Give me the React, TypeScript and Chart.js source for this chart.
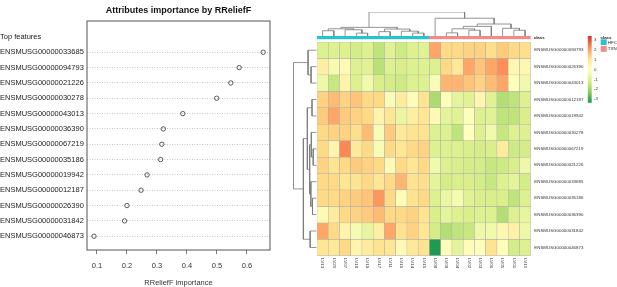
import React, { useEffect, useRef } from 'react';
import { Chart, registerables } from 'chart.js';
Chart.register(...registerables);

const FONT = "'Liberation Sans', Arial, Helvetica, sans-serif";
Chart.defaults.font.family = FONT;

// ---------- left: RReliefF dot chart ----------
const dotTitle = 'Attributes importance by RReliefF';
const dotHeader = 'Top features';
const featureNames = [
  'ENSMUSG00000033685', 'ENSMUSG00000094793', 'ENSMUSG00000021226', 'ENSMUSG00000030278',
  'ENSMUSG00000043013', 'ENSMUSG00000036390', 'ENSMUSG00000067219', 'ENSMUSG00000035186',
  'ENSMUSG00000019942', 'ENSMUSG00000012187', 'ENSMUSG00000026390', 'ENSMUSG00000031842',
  'ENSMUSG00000046873',
];
const importance = [0.654, 0.574, 0.546, 0.499, 0.386, 0.321, 0.316, 0.312, 0.267, 0.247, 0.2, 0.192, 0.09];
const importanceTicks = [0.1, 0.2, 0.3, 0.4, 0.5, 0.6];
const xAxisTitle = 'RReliefF importance';

// ---------- right: heatmap ----------
const heatRows = [
  'ENSMUSG00000094793', 'ENSMUSG00000026390', 'ENSMUSG00000043013', 'ENSMUSG00000012187',
  'ENSMUSG00000019942', 'ENSMUSG00000030278', 'ENSMUSG00000067219', 'ENSMUSG00000021226',
  'ENSMUSG00000033685', 'ENSMUSG00000035186', 'ENSMUSG00000036390', 'ENSMUSG00000031842',
  'ENSMUSG00000046873',
];
const sampleNames = ['LV13', 'LV20', 'LV07', 'LV18', 'LV19', 'LV17', 'LV11', 'LV16', 'LV14', 'LV15',
  'LV08', 'LV09', 'LV04', 'LV02', 'LV03', 'LV06', 'LV05', 'LV01', 'LV10'];
const sampleClass = ['HFC', 'HFC', 'HFC', 'HFC', 'HFC', 'HFC', 'HFC', 'HFC', 'HFC', 'HFC',
  'TXN', 'TXN', 'TXN', 'TXN', 'TXN', 'TXN', 'TXN', 'TXN', 'TXN'];
const classNames = ['HFC', 'TXN'];
const classColors = ['#27C3D3', '#F38A88'];
const annotationTitle = 'class';

const heatValues = [
  [-1.0, -1.0, -1.0, -1.2, -1.0, -1.5, -0.9, -1.3, -1.0, -0.9, 1.9, 1.2, 1.2, 1.3, 1.3, 1.1, 1.4, 1.2, 1.1],
  [0.6, -0.3, 0.2, -1.0, -0.9, -1.6, -1.0, -1.1, -1.0, -1.0, -1.0, 1.2, 0.8, 1.9, 1.5, 1.9, 2.2, 0.3, 0.3],
  [-0.5, -1.4, 0.4, -1.0, -0.4, -1.1, -1.2, -1.3, -1.0, -1.0, -0.2, 1.7, 1.7, 1.5, 1.3, 1.6, 1.9, -0.1, -0.4],
  [1.3, 1.6, 1.3, 1.5, 1.2, 1.2, -0.2, 0.7, 0.1, 1.0, -1.8, -0.1, -0.8, -0.9, 0.3, -0.9, -1.7, -1.5, -1.0],
  [1.4, 1.9, 1.4, 1.3, 1.2, 0.4, 0.9, -0.6, 0.6, 0.9, 0.2, -0.8, -0.9, -0.1, -1.0, -0.9, -1.5, -1.5, -1.1],
  [1.2, 1.3, 1.3, 1.1, 1.6, -0.2, 1.4, 0.8, 1.0, 1.0, -1.0, -1.0, -1.5, 0.0, -1.0, -0.4, -1.4, -1.0, -1.0],
  [1.2, 0.4, 2.3, 0.8, 1.2, -0.2, 1.2, 0.9, 1.2, 1.3, -1.0, -1.0, -1.0, -1.1, -1.2, -1.1, 0.7, -1.3, -1.2],
  [1.3, 1.0, 1.2, 1.4, 1.3, 1.2, 0.2, 1.2, 0.9, 1.2, -0.4, -1.0, -1.1, -1.2, -1.2, -1.4, -1.3, -1.1, -0.5],
  [1.2, 1.2, 0.9, 1.0, 1.2, 0.9, 1.2, 1.7, 1.0, 1.1, -0.8, -1.2, -1.1, -1.1, -1.2, -1.4, -1.0, -0.8, -1.2],
  [1.2, 1.2, 1.3, 1.4, 1.5, 2.1, 1.2, 0.1, 1.0, 1.2, -1.0, -0.6, -0.3, -0.9, -1.1, -1.1, -1.1, -1.5, -1.0],
  [0.2, 0.7, 1.2, 1.3, 1.4, 1.6, 1.2, 1.2, 1.3, 1.0, -1.1, -0.8, -1.0, -1.1, -1.0, -1.0, -1.7, -1.0, -0.7],
  [1.9, 1.2, 0.4, -0.3, -0.7, 0.6, 1.9, 1.0, 1.3, 0.9, -1.2, -1.7, -1.5, -1.4, -0.5, -0.4, 0.3, 0.5, -0.5],
  [0.9, 0.8, 1.2, 0.4, 0.7, 1.0, 0.9, 0.2, 0.8, 1.0, -3.3, 0.1, -0.8, 0.1, -0.1, 1.0, 0.1, -1.2, -1.0],
];
const VMIN = -3.35;
const VMAX = 3.35;
const palette = ['#1a9850', '#91cf60', '#d9ef8b', '#ffffbf', '#fee08b', '#fc8d59', '#d73027'];
const legendTicks = [3, 2, 1, 0, -1, -2, -3];

// dendrograms: [left, right, height]; negative = leaf -(position+1), positive = earlier merge (1-based)
const colMerges = [
  [-1, -2, 2.2], [-4, -5, 1.2], [-3, 2, 2.6], [1, 3, 3.0], [-6, -7, 1.8], [-9, -10, 1.2],
  [-8, 6, 2.0], [5, 7, 2.9], [4, 8, 3.6], [-12, -13, 1.3], [-14, -15, 2.4], [10, 11, 3.0],
  [12, -16, 4.0], [-18, -19, 2.4], [-17, 14, 3.2], [13, 15, 5.0], [-11, 16, 7.4], [9, 17, 10],
];
const rowMerges = [
  [-2, -3, 2.4], [-1, 1, 3.7], [-4, -5, 2.0], [-7, -8, 1.5], [-6, 4, 2.3], [-10, -11, 1.8],
  [-9, 6, 2.5], [5, 7, 3.0], [3, 8, 4.0], [-12, -13, 2.8], [9, 10, 5.7], [2, 11, 10],
];

function hexToRgb(h: string) {
  const n = parseInt(h.slice(1), 16);
  return [(n >> 16) & 255, (n >> 8) & 255, n & 255];
}
function colorFor(v: number) {
  const t = Math.max(0, Math.min(1, (v - VMIN) / (VMAX - VMIN))) * (palette.length - 1);
  const i = Math.min(palette.length - 2, Math.floor(t));
  const f = t - i;
  const a = hexToRgb(palette[i]);
  const b = hexToRgb(palette[i + 1]);
  const c = a.map((x, k) => Math.round(x + (b[k] - x) * f));
  return `rgb(${c[0]},${c[1]},${c[2]})`;
}
function dendroSegments(merges: number[][]) {
  const pos: number[] = [];
  const hgt: number[] = [];
  const get = (k: number) => (k < 0 ? [-k - 1, 0] : [pos[k - 1], hgt[k - 1]]);
  return merges.map(([a, b, h], i) => {
    const [pa, ha] = get(a);
    const [pb, hb] = get(b);
    pos[i] = (pa + pb) / 2;
    hgt[i] = h;
    return [[pa, ha], [pa, h], [pb, h], [pb, hb]];
  });
}

const base = {
  animation: false,
  responsive: false,
  devicePixelRatio: 1,
  events: [],
};
const noPlugins = { legend: { display: false }, tooltip: { enabled: false }, title: { display: false } };

const boxPlugin = {
  id: 'box',
  afterDraw(chart: any) {
    const { ctx, chartArea: a } = chart;
    ctx.save();
    ctx.strokeStyle = '#555';
    ctx.lineWidth = 1;
    ctx.strokeRect(a.left, a.top, a.right - a.left, a.bottom - a.top);
    ctx.restore();
  },
};

const dotLabels = [dotHeader, ...featureNames];

function dotConfig(): any {
  return {
    type: 'scatter',
    data: {
      datasets: [{
        data: importance.map((v, i) => ({ x: v, y: i + 1 })),
        pointRadius: 2.2,
        pointBorderWidth: 0.8,
        pointBorderColor: '#333',
        pointBackgroundColor: 'rgba(0,0,0,0)',
        showLine: false,
      }],
    },
    options: {
      ...base,
      layout: { padding: { left: 0, top: 0, right: 30, bottom: 0 } },
      plugins: {
        ...noPlugins,
        title: {
          display: true, text: dotTitle, fullSize: false, color: '#111',
          font: { family: FONT, size: 9, weight: 'bold' }, padding: { top: 5.2, bottom: 5.0 },
        },
      },
      scales: {
        x: {
          type: 'linear', min: 0.0667, max: 0.6767,
          afterBuildTicks: (s: any) => { s.ticks = importanceTicks.map((v) => ({ value: v })); },
          afterFit: (s: any) => { s.height = 37; },
          grid: { drawOnChartArea: false, drawTicks: true, tickLength: 4, tickColor: '#555', tickWidth: 0.8 },
          border: { display: false },
          ticks: { font: { family: FONT, size: 7.5 }, color: '#333', padding: 7.5, maxRotation: 0, autoSkip: false, callback: (v: any) => String(v) },
          title: { display: true, text: xAxisTitle, font: { family: FONT, size: 7.5 }, color: '#333', padding: { top: 0, bottom: 0 } },
        },
        y: {
          type: 'linear', reverse: true, min: -1.04, max: 13.9,
          afterBuildTicks: (s: any) => { s.ticks = dotLabels.map((_, i) => ({ value: i })); },
          afterFit: (s: any) => { s.width = 87; },
          grid: {
            color: (c: any) => (c.tick && c.tick.value === 0 ? 'rgba(0,0,0,0)' : '#b8b8b8'),
            lineWidth: 0.8, drawTicks: false,
          },
          border: { display: false, dash: [1, 1.5] },
          ticks: { crossAlign: 'far', padding: 0, autoSkip: false, font: { family: FONT, size: 7.5 }, color: '#222', callback: (v: any) => dotLabels[v] ?? '' },
        },
      },
    },
    plugins: [boxPlugin],
  };
}

const colLabelPlugin = {
  id: 'colLabels',
  afterDraw(chart: any) {
    const { ctx, chartArea, scales } = chart;
    ctx.save();
    ctx.font = `4.4px ${FONT}`;
    ctx.fillStyle = '#333';
    ctx.textAlign = 'left';
    ctx.textBaseline = 'middle';
    sampleNames.forEach((n, i) => {
      const x = scales.x.getPixelForValue(i);
      ctx.save();
      ctx.translate(x, chartArea.bottom + 2.5);
      ctx.rotate(Math.PI / 2);
      ctx.fillText(n, 0, 0);
      ctx.restore();
    });
    ctx.restore();
  },
};

function heatConfig(): any {
  return {
    type: 'bar',
    data: {
      labels: sampleNames,
      datasets: heatRows.map((name, r) => ({
        label: name,
        data: sampleNames.map(() => 1),
        backgroundColor: heatValues[r].map(colorFor),
        borderColor: '#aaaaaa',
        borderWidth: 0.5,
        borderSkipped: false,
        barPercentage: 1,
        categoryPercentage: 1,
        yAxisID: 'y',
      })),
    },
    options: {
      ...base,
      layout: { padding: { left: 17, top: 12, right: 0, bottom: 31.3 } },
      plugins: noPlugins,
      scales: {
        x: { type: 'category', stacked: true, display: false, offset: true },
        y: { type: 'linear', stacked: true, display: false, reverse: true, min: 0, max: heatRows.length },
        yl: {
          type: 'category', labels: heatRows, position: 'right', offset: true,
          grid: { display: false, drawTicks: false }, border: { display: false },
          ticks: { font: { family: FONT, size: 4.4 }, color: '#333', padding: 3.6, autoSkip: false },
          afterFit: (s: any) => { s.width = 86.3; },
        },
      },
    },
    plugins: [colLabelPlugin],
  };
}

function annotationConfig(): any {
  return {
    type: 'bar',
    data: {
      labels: sampleNames,
      datasets: [{
        data: sampleNames.map(() => 1),
        backgroundColor: sampleClass.map((c) => classColors[classNames.indexOf(c)]),
        borderWidth: 0,
        barPercentage: 1,
        categoryPercentage: 1,
      }],
    },
    options: {
      ...base,
      layout: { padding: { left: 17, top: 36, right: 0, bottom: 4.5 } },
      plugins: noPlugins,
      scales: {
        x: { type: 'category', display: false, offset: true },
        y: { type: 'linear', display: false, min: 0, max: 1 },
        yl: {
          type: 'category', labels: [annotationTitle], position: 'right', offset: true,
          grid: { display: false, drawTicks: false }, border: { display: false },
          ticks: { font: { family: FONT, size: 4.4, weight: 'bold' }, color: '#222', padding: 3, autoSkip: false },
          afterFit: (s: any) => { s.width = 86.3; },
        },
      },
    },
  };
}

const classLegendPlugin = {
  id: 'classLegend',
  afterDraw(chart: any) {
    const { ctx } = chart;
    ctx.save();
    ctx.textAlign = 'left';
    ctx.textBaseline = 'middle';
    ctx.fillStyle = '#222';
    ctx.font = `bold 4.4px ${FONT}`;
    ctx.fillText(annotationTitle, 40.5, 37.3);
    ctx.font = `4.4px ${FONT}`;
    classNames.forEach((n, i) => {
      const y = 39.3 + i * 6.7;
      ctx.fillStyle = classColors[i];
      ctx.fillRect(40.7, y, 6, 5.8);
      ctx.fillStyle = '#222';
      ctx.fillText(n, 47.8, y + 3);
    });
    ctx.restore();
  },
};

function colorbarConfig(): any {
  return {
    type: 'bar',
    data: {
      labels: [''],
      datasets: [{
        data: [[VMIN, VMAX]],
        backgroundColor: (c: any) => {
          const a = c.chart.chartArea;
          if (!a) return palette[3];
          const g = c.chart.ctx.createLinearGradient(0, a.bottom, 0, a.top);
          palette.forEach((p, i) => g.addColorStop(i / (palette.length - 1), p));
          return g;
        },
        borderWidth: 0,
        barPercentage: 1,
        categoryPercentage: 1,
      }],
    },
    options: {
      ...base,
      layout: { padding: { left: 27.7, top: 36, right: 0, bottom: 17.3 } },
      plugins: noPlugins,
      scales: {
        x: { type: 'category', display: false, offset: true },
        y: {
          type: 'linear', position: 'right', min: VMIN, max: VMAX,
          afterBuildTicks: (s: any) => { s.ticks = legendTicks.map((v) => ({ value: v })); },
          afterFit: (s: any) => { s.width = 25.3; },
          grid: { display: false, drawTicks: false }, border: { display: false },
          ticks: { font: { family: FONT, size: 4.4 }, color: '#333', padding: 2.3, autoSkip: false, callback: (v: any) => String(v) },
        },
      },
    },
    plugins: [classLegendPlugin],
  };
}

function dendroDatasets(merges: number[][], horizontal: boolean) {
  return dendroSegments(merges).map((seg) => ({
    data: seg.map(([p, h]) => (horizontal ? { x: p, y: h } : { x: h, y: p })),
    showLine: true,
    borderColor: '#7a7a7a',
    borderWidth: 0.8,
    pointRadius: 0,
    fill: false,
    tension: 0,
  }));
}

function topDendroConfig(): any {
  return {
    type: 'scatter',
    data: { datasets: dendroDatasets(colMerges, true) },
    options: {
      ...base,
      layout: { padding: { left: 17, top: 12, right: 9.3, bottom: 9 } },
      plugins: noPlugins,
      scales: {
        x: { type: 'linear', display: false, min: -0.5, max: sampleNames.length - 0.5 },
        y: { type: 'linear', display: false, min: 0, max: 10 },
      },
    },
  };
}

function leftDendroConfig(): any {
  return {
    type: 'scatter',
    data: { datasets: dendroDatasets(rowMerges, false) },
    options: {
      ...base,
      layout: { padding: { left: 13.3, top: 12, right: 3.3, bottom: 14.3 } },
      plugins: noPlugins,
      scales: {
        x: { type: 'linear', display: false, reverse: true, min: 0, max: 10 },
        y: { type: 'linear', display: false, reverse: true, min: -0.5, max: heatRows.length - 0.5 },
      },
    },
  };
}

function ChartCanvas({ left, top, width, height, config }: any) {
  const ref = useRef<HTMLCanvasElement>(null);
  useEffect(() => {
    const chart = new Chart(ref.current as HTMLCanvasElement, config());
    return () => chart.destroy();
  }, []);
  return (
    <canvas
      ref={ref}
      width={width}
      height={height}
      style={{ position: 'absolute', left, top, width, height }}
    />
  );
}

export default function App() {
  return (
    <div style={{ position: 'absolute', left: 0, top: 0, width: 617, height: 287, background: '#fff', overflow: 'hidden' }}>
      <ChartCanvas left={0} top={0} width={300} height={287} config={dotConfig} />
      <ChartCanvas left={300} top={30} width={317} height={257} config={heatConfig} />
      <ChartCanvas left={300} top={0} width={317} height={45} config={annotationConfig} />
      <ChartCanvas left={300} top={0} width={240} height={45} config={topDendroConfig} />
      <ChartCanvas left={280} top={30} width={40} height={240} config={leftDendroConfig} />
      <ChartCanvas left={560} top={0} width={57} height={120} config={colorbarConfig} />
    </div>
  );
}
